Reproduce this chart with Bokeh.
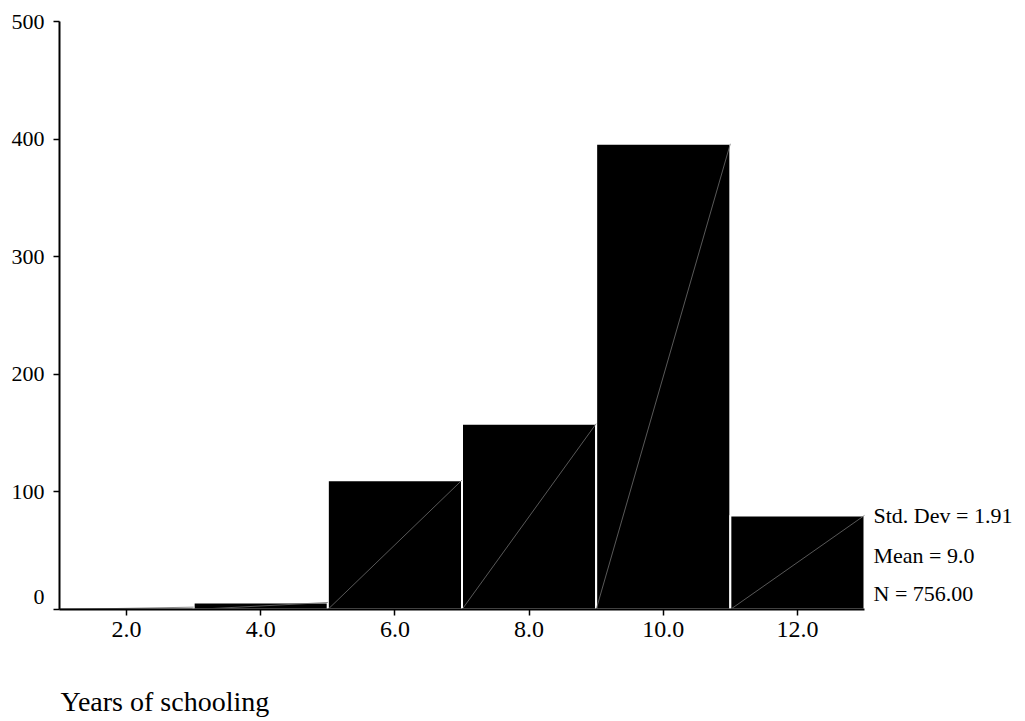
from bokeh.plotting import figure
from bokeh.models import Range1d, FixedTicker, Label, ColumnDataSource
from bokeh.embed import file_html
from bokeh.resources import INLINE

# Data
bin_centers = [2.0, 4.0, 6.0, 8.0, 10.0, 12.0]
counts = [2, 6, 110, 158, 396, 80]
bin_width = 2.0
x_tick_labels = ["2.0", "4.0", "6.0", "8.0", "10.0", "12.0"]
y_ticks = [0, 100, 200, 300, 400, 500]
stats_lines = ["Std. Dev = 1.91", "Mean = 9.0", "N = 756.00"]
x_title = "Years of schooling"

FONT = "Liberation Serif"

W, H = 1020, 720
# pixel geometry of the data area (x=1..13, y=0..500)
PX_LEFT, PX_RIGHT, PX_TOP, PX_BOTTOM = 59.0, 864.0, 21.0, 609.0
sx = (PX_RIGHT - PX_LEFT) / 12.0
sy = (PX_BOTTOM - PX_TOP) / 500.0

def xd(px):
    return 1 + (px - PX_LEFT) / sx

def yd(py):
    return (PX_BOTTOM - py) / sy

p = figure(width=W, height=H, output_backend="svg", toolbar_location=None,
           x_range=Range1d(xd(0), xd(W)), y_range=Range1d(yd(H), yd(0)),
           min_border=0)
p.min_border_left = 0
p.min_border_right = 0
p.min_border_top = 0
p.min_border_bottom = 0
p.title.visible = False
p.outline_line_color = None
p.xgrid.visible = False
p.ygrid.visible = False
p.background_fill_color = "white"

lefts = [c - bin_width / 2 for c in bin_centers]
rights = [c + bin_width / 2 for c in bin_centers]
src = ColumnDataSource(dict(left=lefts, right=rights, top=counts,
                            bottom=[0] * len(counts)))
p.quad(left="left", right="right", top="top", bottom="bottom", source=src,
       fill_color="black", line_color="white", line_width=2)
# thin diagonal artefact lines inside bars
p.segment(x0="left", y0="bottom", x1="right", y1="top", source=src,
          line_color="#6e6e6e", line_width=0.8)

# axes placed at the data origin
xa = p.xaxis[0]
ya = p.yaxis[0]
xa.fixed_location = 0
xa.bounds = (1, 13)
ya.fixed_location = 1
ya.bounds = (0, 500)
for ax in (xa, ya):
    ax.axis_line_width = 2
    ax.axis_line_color = "black"
    ax.major_tick_line_width = 1.5
    ax.major_tick_line_color = "black"
    ax.major_tick_in = 0
    ax.major_tick_out = 6
    ax.minor_tick_line_color = None
    ax.major_label_text_font = FONT
    ax.major_label_text_color = "black"
xa.major_label_text_font_size = "24px"
xa.major_label_standoff = 6
ya.major_label_text_font_size = "22px"
ya.major_label_standoff = 9

xa.ticker = FixedTicker(ticks=bin_centers)
xa.major_label_overrides = {c: l for c, l in zip(bin_centers, x_tick_labels)}
ya.ticker = FixedTicker(ticks=y_ticks)
ya.major_label_overrides = {0: ""}

# the "0" label sits above the axis line in the reference
p.add_layout(Label(x=xd(44), y=yd(596), text="0", text_font=FONT,
                   text_font_size="22px", text_align="right",
                   text_baseline="middle", text_color="black"))

stat_px = [515, 555, 593]
for txt, py in zip(stats_lines, stat_px):
    p.add_layout(Label(x=xd(873), y=yd(py), text=txt, text_font=FONT,
                       text_font_size="22px", text_align="left",
                       text_baseline="middle", text_color="black"))

p.add_layout(Label(x=xd(60), y=yd(701), text=x_title, text_font=FONT,
                   text_font_size="28px", text_align="left",
                   text_baseline="middle", text_color="black"))

open("out.html", "w").write(file_html(p, INLINE))
